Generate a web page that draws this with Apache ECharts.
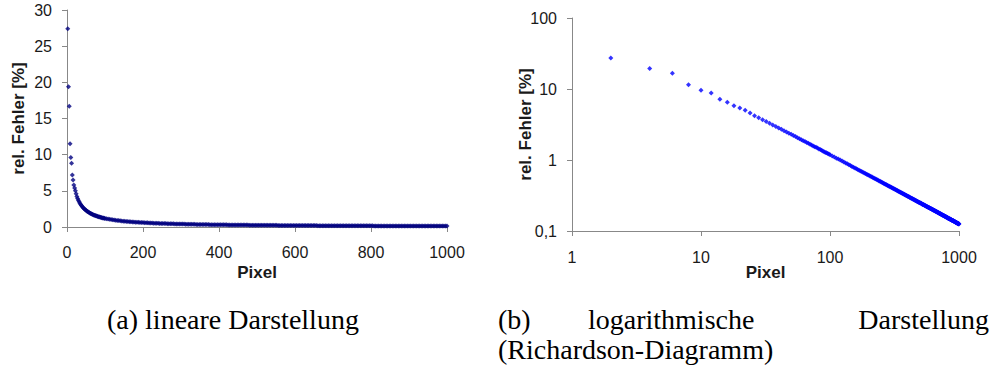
<!DOCTYPE html>
<html>
<head>
<meta charset="utf-8">
<script src="https://cdn.jsdelivr.net/npm/echarts@6/dist/echarts.min.js"></script>
<style>
html,body{margin:0;padding:0;background:#fff;}
#chart{width:995px;height:371px;}
</style>
</head>
<body>
<div id="chart"></div>
<script>
// Pixel positions (x) and relative error in % (y)
const pixelsA = [2,4,6,8,10,12,14,16,18,20,22,24,26,28,30,32,34,36,38,40,42,44,46,48,50,52,54,56,58,60,62,64,66,68,70,72,74,76,78,80,82,84,86,88,90,92,94,96,98,100];
const errorsA = [27.4,19.4,16.7,11.5,9.6,8.8,7.2,6.5,5.8,5.4,5.0,4.6,4.2,3.95,3.7,3.48,3.29,3.12,2.96,2.83,2.70,2.59,2.48,2.39,2.30,2.22,2.14,2.06,2.00,1.93,1.87,1.82,1.77,1.72,1.67,1.63,1.58,1.54,1.51,1.47,1.43,1.40,1.37,1.34,1.31,1.28,1.26,1.23,1.21,1.19];
const pixelsB = [104,108,112,116,120,124,128,132,136,140,144,148,152,156,160,164,168,172,176,180,184,188,192,196,200,204,208,212,216,220,224,228,232,236,240,244,248,252,256,260,264,268,272,276,280,284,288,292,296,300,304,308,312,316,320,324,328,332,336,340,344,348,352,356,360,364,368,372,376,380,384,388,392,396,400];
const errorsB = [1.14,1.10,1.06,1.03,0.996,0.965,0.935,0.908,0.882,0.857,0.834,0.812,0.791,0.772,0.753,0.735,0.718,0.702,0.687,0.672,0.658,0.645,0.632,0.619,0.608,0.596,0.585,0.574,0.563,0.553,0.544,0.534,0.525,0.517,0.508,0.500,0.492,0.485,0.477,0.470,0.463,0.457,0.450,0.444,0.438,0.432,0.426,0.420,0.415,0.409,0.404,0.399,0.394,0.389,0.384,0.380,0.375,0.371,0.367,0.362,0.358,0.354,0.351,0.347,0.343,0.339,0.336,0.332,0.328,0.325,0.322,0.318,0.315,0.312,0.309];
const pixelsC = [
  404,408,412,416,420,424,428,432,436,440,
  444,448,452,456,460,464,468,472,476,480,
  484,488,492,496,500,504,508,512,516,520,
  524,528,532,536,540,544,548,552,556,560,
  564,568,572,576,580,584,588,592,596,600,
  604,608,612,616,620,624,628,632,636,640,
  644,648,652,656,660,664,668,672,676,680,
  684,688,692,696,700,704,708,712,716,720,
  724,728,732,736,740,744,748,752,756,760,
  764,768,772,776,780,784,788,792,796,800,
  804,808,812,816,820,824,828,832,836,840,
  844,848,852,856,860,864,868,872,876,880,
  884,888,892,896,900,904,908,912,916,920,
  924,928,932,936,940,944,948,952,956,960,
  964,968,972,976,980,984,988,992,996,1000];
const errorsC = [
  0.306,0.303,0.300,0.297,0.295,0.292,0.289,0.287,0.284,0.281,
  0.279,0.277,0.274,0.272,0.270,0.267,0.265,0.263,0.261,0.259,
  0.256,0.254,0.252,0.250,0.248,0.247,0.245,0.243,0.241,0.239,
  0.237,0.236,0.234,0.232,0.231,0.229,0.227,0.226,0.224,0.222,
  0.221,0.219,0.218,0.216,0.215,0.214,0.212,0.211,0.209,0.208,
  0.207,0.205,0.204,0.203,0.202,0.200,0.199,0.198,0.197,0.195,
  0.194,0.193,0.192,0.191,0.189,0.188,0.187,0.186,0.185,0.184,
  0.183,0.182,0.181,0.180,0.179,0.178,0.177,0.176,0.175,0.174,
  0.173,0.172,0.171,0.170,0.169,0.168,0.167,0.166,0.165,0.165,
  0.164,0.163,0.162,0.161,0.160,0.160,0.159,0.158,0.157,0.157,
  0.156,0.155,0.154,0.153,0.153,0.152,0.151,0.150,0.150,0.149,
  0.148,0.148,0.147,0.146,0.146,0.145,0.144,0.144,0.143,0.142,
  0.142,0.141,0.141,0.140,0.139,0.139,0.138,0.137,0.137,0.136,
  0.136,0.135,0.135,0.134,0.133,0.133,0.132,0.132,0.131,0.131,
  0.130,0.130,0.129,0.129,0.128,0.127,0.127,0.126,0.126,0.125];

const xTitle = 'Pixel';
const yTitle = 'rel. Fehler [%]';
const captionA = '(a) lineare Darstellung';
const captionB1 = ['(b)', 'logarithmische', 'Darstellung'];
const captionB2 = '(Richardson-Diagramm)';

const pixels = pixelsA.concat(pixelsB, pixelsC);
const errors = errorsA.concat(errorsB, errorsC);
const points = pixels.map((p, i) => [p, errors[i]]);

const axisLineStyle = {lineStyle: {color: '#888888', width: 1}};
const tickStyle = {show: true, length: 5, lineStyle: {color: '#888888'}};
const labelFont = {fontFamily: 'Liberation Sans', fontSize: 16, color: '#1a1a1a'};
const nameFont = {fontFamily: 'Liberation Sans', fontSize: 17, fontWeight: 'bold', color: '#1a1a1a'};
const plain = v => String(v);
const comma = v => Number(Number(v).toPrecision(6)).toString().replace('.', ',');

const chart = echarts.init(document.getElementById('chart'), null, {renderer: 'svg'});
chart.setOption({
  animation: false,
  backgroundColor: '#ffffff',
  grid: [
    {left: 67, right: 548, top: 10, bottom: 144},
    {left: 572, right: 36, top: 18, bottom: 140}
  ],
  xAxis: [
    {gridIndex: 0, type: 'value', min: 0, max: 1000, interval: 200,
     name: xTitle, nameLocation: 'middle', nameGap: 37, nameMoveOverlap: false, nameTextStyle: nameFont,
     axisLine: axisLineStyle, axisTick: tickStyle,
     axisLabel: Object.assign({margin: 17, formatter: plain}, labelFont), splitLine: {show: false}},
    {gridIndex: 1, type: 'log', logBase: 10, min: 1, max: 1000,
     name: xTitle, nameLocation: 'middle', nameGap: 33, nameMoveOverlap: false, nameTextStyle: nameFont,
     axisLine: axisLineStyle, axisTick: tickStyle, minorTick: {show: false},
     axisLabel: Object.assign({margin: 18, formatter: comma}, labelFont), splitLine: {show: false}}
  ],
  yAxis: [
    {gridIndex: 0, type: 'value', min: 0, max: 30, interval: 5,
     name: yTitle, nameLocation: 'middle', nameGap: 40, nameMoveOverlap: false, nameTextStyle: nameFont,
     axisLine: Object.assign({show: true}, axisLineStyle), axisTick: tickStyle,
     axisLabel: Object.assign({margin: 15, formatter: plain}, labelFont), splitLine: {show: false}},
    {gridIndex: 1, type: 'log', logBase: 10, min: 0.1, max: 100,
     name: yTitle, nameLocation: 'middle', nameGap: 38, nameMoveOverlap: false, nameTextStyle: nameFont,
     axisLine: Object.assign({show: true}, axisLineStyle), axisTick: tickStyle, minorTick: {show: false},
     axisLabel: Object.assign({margin: 15, formatter: comma}, labelFont), splitLine: {show: false}}
  ],
  series: [
    {type: 'scatter', xAxisIndex: 0, yAxisIndex: 0, data: points,
     symbol: 'diamond', symbolSize: 5, itemStyle: {color: '#000080'}},
    {type: 'scatter', xAxisIndex: 1, yAxisIndex: 1, data: points,
     symbol: 'diamond', symbolSize: 5, itemStyle: {color: '#0000ff'}}
  ],
  graphic: [
    {type: 'text', left: 107, top: 305, style: {text: captionA, font: '28px "Liberation Serif"', fill: '#000'}},
    {type: 'text', left: 498, top: 305, style: {text: captionB1[0], font: '28px "Liberation Serif"', fill: '#000'}},
    {type: 'text', left: 588, top: 305, style: {text: captionB1[1], font: '28px "Liberation Serif"', fill: '#000'}},
    {type: 'text', right: 6, top: 305, style: {text: captionB1[2], font: '28px "Liberation Serif"', fill: '#000'}},
    {type: 'text', left: 498, top: 335, style: {text: captionB2, font: '28px "Liberation Serif"', fill: '#000'}}
  ]
});
</script>
</body>
</html>
